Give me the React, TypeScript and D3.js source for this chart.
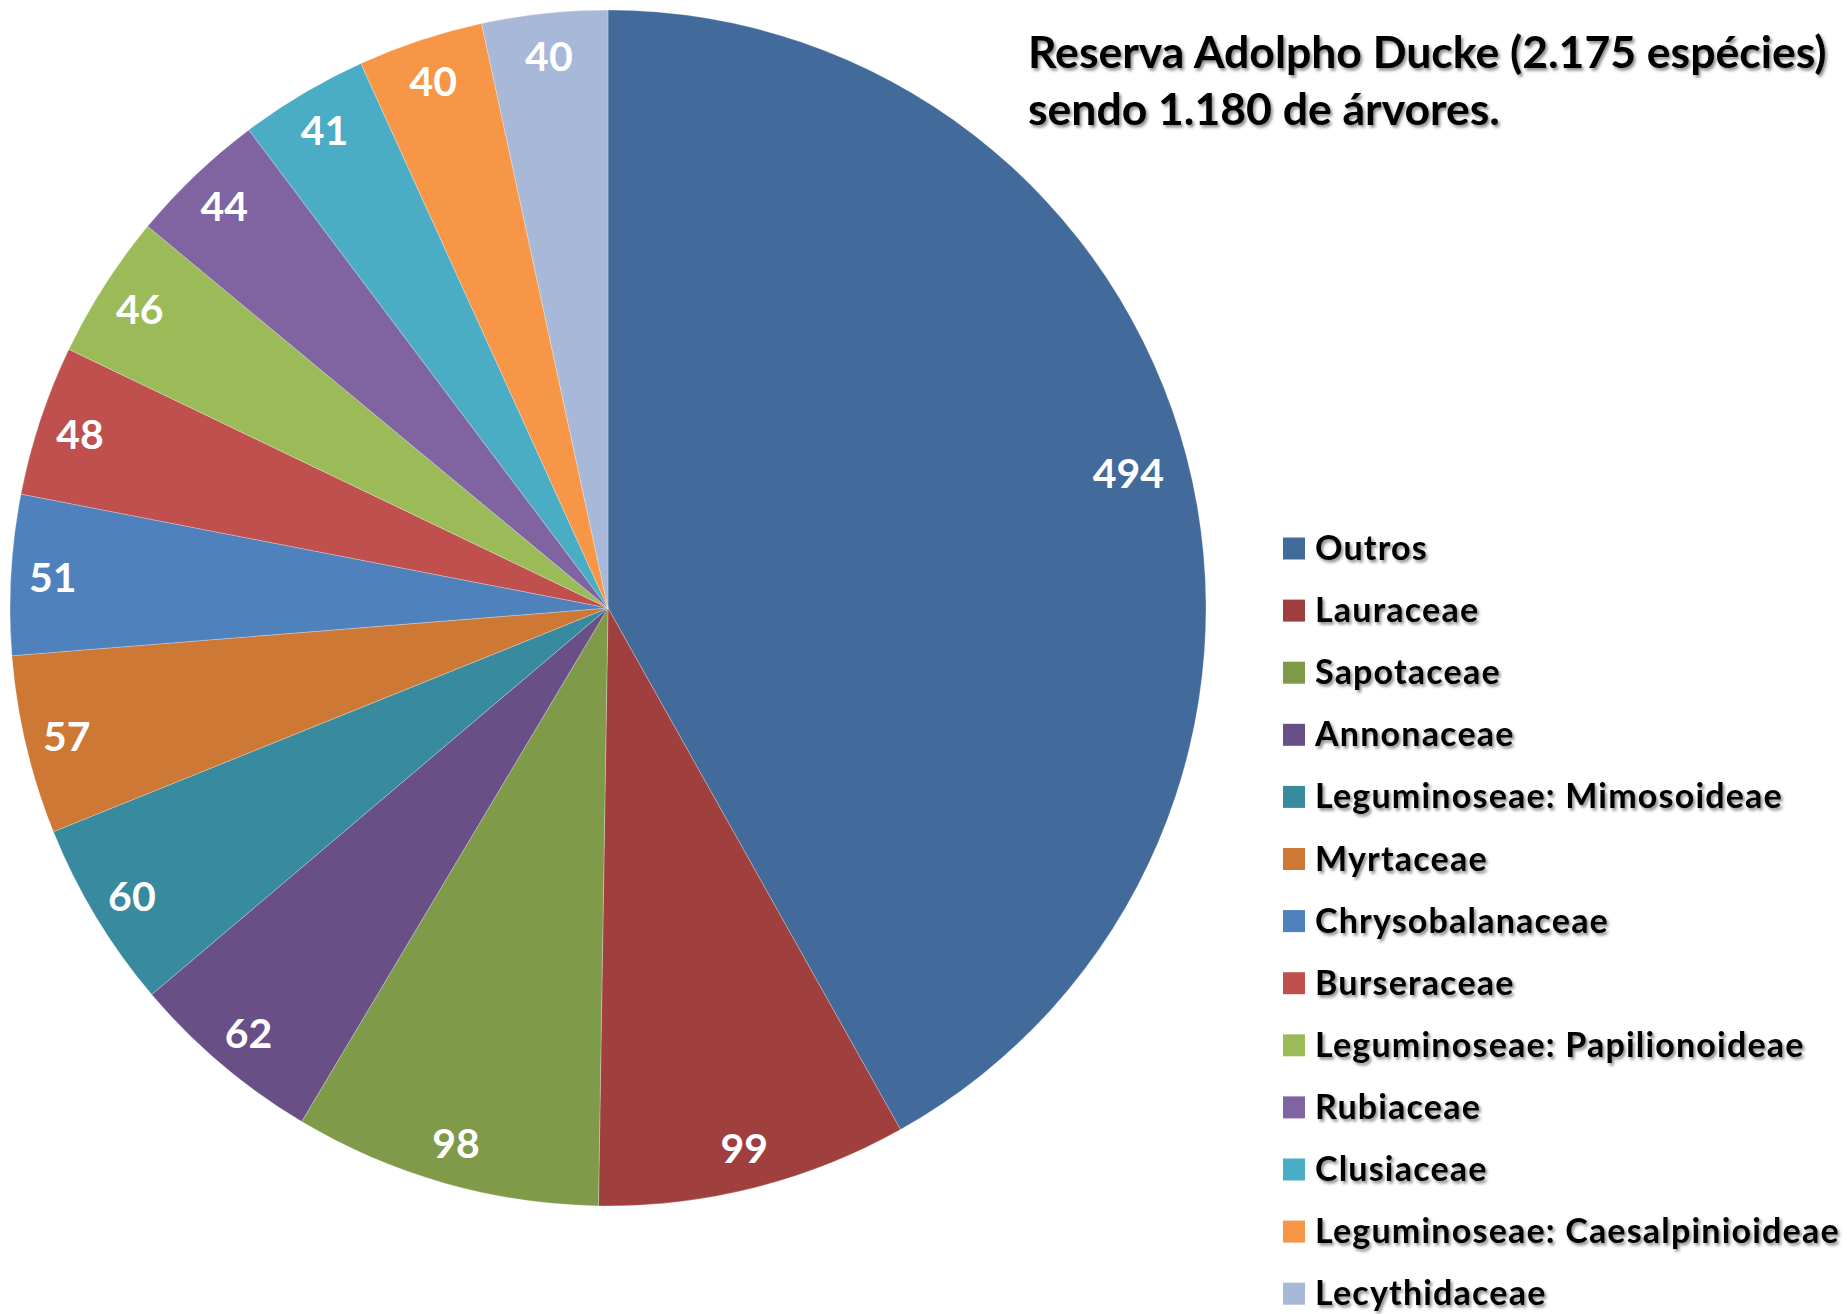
import React from "react";
import * as d3 from "d3";

const categories = [
  "Outros",
  "Lauraceae",
  "Sapotaceae",
  "Annonaceae",
  "Leguminoseae: Mimosoideae",
  "Myrtaceae",
  "Chrysobalanaceae",
  "Burseraceae",
  "Leguminoseae: Papilionoideae",
  "Rubiaceae",
  "Clusiaceae",
  "Leguminoseae: Caesalpinioideae",
  "Lecythidaceae",
];
const values = [494, 99, 98, 62, 60, 57, 51, 48, 46, 44, 41, 40, 40];
const colors = [
  "#426A9A",
  "#A0403E",
  "#7F9A48",
  "#684F86",
  "#388A9E",
  "#CD7835",
  "#4F81BD",
  "#C0504D",
  "#9BBB59",
  "#8064A2",
  "#4BACC6",
  "#F79646",
  "#A7B8D8",
];
const titleLines = ["Reserva Adolpho Ducke (2.175 espécies)", "sendo 1.180 de árvores."];

const W = 1847;
const H = 1314;
const cx = 608;
const cy = 608;
const R = 598;

export default function App() {
  const data = categories.map((c, i) => ({ name: c, value: values[i], color: colors[i] }));
  const pie = d3.pie<any>().value((d) => d.value).sort(null);
  const arcs = pie(data);
  const arcGen = d3.arc<any>().innerRadius(0).outerRadius(R);
  const labelArc = d3.arc<any>().innerRadius(R * 0.93).outerRadius(R * 0.93);
  const legendY = d3.scaleLinear().domain([0, 1]).range([548.5, 548.5 + 62.1]);

  return (
    <svg
      width={W}
      height={H}
      style={{ position: "absolute", left: 0, top: 0, background: "#fff" }}
      fontFamily="Lato, 'Open Sans', sans-serif"
    >
      <defs>
        <filter id="shadow" x="-5%" y="-20%" width="110%" height="150%">
          <feDropShadow dx="2" dy="2.5" stdDeviation="1.6" floodColor="#000" floodOpacity="0.45" />
        </filter>
      </defs>
      <g transform={`translate(${cx},${cy})`}>
        {arcs.map((a, i) => (
          <path key={i} d={arcGen(a) as string} fill={a.data.color} stroke="#ffffff" strokeOpacity={0.25} strokeWidth={1} />
        ))}
        {arcs.map((a, i) => {
          const [x, y] = labelArc.centroid(a);
          const adj = String(a.data.value).length > 2 ? 0.967 : 1;
          return (
            <text
              key={"l" + i}
              x={x * adj}
              y={y * adj}
              textAnchor="middle"
              dominantBaseline="central"
              fill="#fff"
              fontWeight="bold"
              fontSize={41}
            >
              {a.data.value}
            </text>
          );
        })}
      </g>
      <g filter="url(#shadow)">
        {titleLines.map((t, i) => (
          <text key={t} x={1028} y={68 + i * 57} fontSize={44.5} fontWeight="bold" fill="#000">
            {t}
          </text>
        ))}
      </g>
      <g>
        {data.map((d, i) => (
          <g key={d.name} transform={`translate(1283,${legendY(i)})`}>
            <rect x={0} y={-11} width={22} height={22} fill={d.color} />
            <text
              x={32}
              y={11.5}
              fontSize={34}
              fontWeight="bold"
              fill="#000"
              letterSpacing={1.2}
              filter="url(#shadow)"
            >
              {d.name}
            </text>
          </g>
        ))}
      </g>
    </svg>
  );
}
